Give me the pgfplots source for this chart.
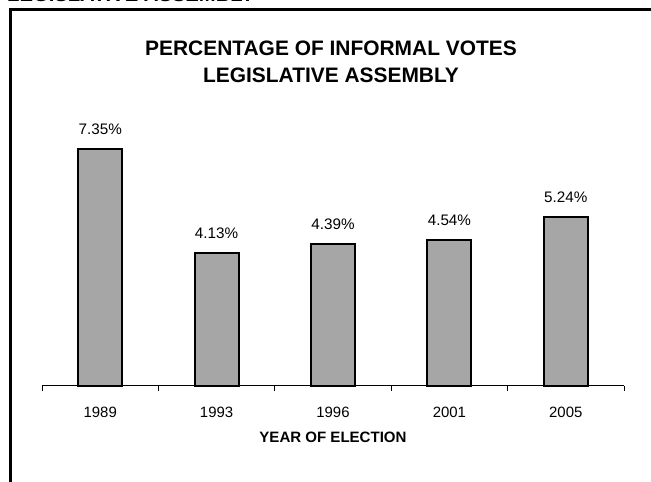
\documentclass[border=0pt]{standalone}
\usepackage{fontspec}
\setmainfont{Liberation Sans}
\usepackage{pgfplots}
\pgfplotsset{compat=1.18}
\definecolor{barfill}{RGB}{166,166,166}
\begin{document}
\begin{tikzpicture}
\useasboundingbox (0bp,0bp) rectangle (651bp,482bp);
% heading above the frame (runs off the top of the page)
\node[anchor=base west, inner sep=0pt, font=\fontsize{20.3}{24}\selectfont\bfseries]
  at (7bp,480.2bp) {LEGISLATIVE ASSEMBLY};
% chart frame
\draw[line width=2.5bp] (10.5bp,-10bp) -- (10.5bp,472.3bp) -- (680bp,472.3bp);
% chart title
\node[anchor=base, inner sep=0pt, font=\fontsize{21}{25}\selectfont\bfseries]
  at (331bp,426bp) {PERCENTAGE OF INFORMAL VOTES};
\node[anchor=base, inner sep=0pt, font=\fontsize{21}{25}\selectfont\bfseries]
  at (331bp,399bp) {LEGISLATIVE ASSEMBLY};
\begin{axis}[
  at={(42bp,96bp)}, anchor=south west,
  scale only axis, width=582bp, height=257.9bp,
  xmin=-0.5, xmax=4.5, ymin=0, ymax=8,
  clip=false,
  axis x line*=bottom, axis y line=none,
  axis line style={black, line width=1bp},
  /pgf/number format/assume math mode=true,
  xtick={0,1,2,3,4},
  xticklabels={1989,1993,1996,2001,2005},
  major x tick style={draw=none},
  minor xtick={-0.5,0.5,1.5,2.5,3.5,4.5},
  minor x tick style={black, line width=1bp},
  minor tick length=5bp,
  tick align=outside,
  ytick=\empty,
  xticklabel style={font=\fontsize{15}{18}\selectfont, anchor=base, yshift=-27bp, inner sep=0pt},
  xlabel={YEAR OF ELECTION},
  xlabel style={at={(axis description cs:0.5,0)}, anchor=base, yshift=-56.3bp,
    inner sep=0pt, font=\fontsize{15.1}{18}\selectfont\bfseries},
  ybar, bar width=0.378,
  nodes near coords={\pgfmathprintnumber[fixed,fixed zerofill,precision=2]{\pgfplotspointmeta}\%},
  every node near coord/.append style={font=\fontsize{15.3}{18}\selectfont,
    anchor=base, yshift=14.5bp, inner sep=0pt},
]
\addplot[fill=barfill, draw=black, line width=2bp]
  coordinates {(0,7.35) (1,4.13) (2,4.39) (3,4.54) (4,5.24)};
\end{axis}
\end{tikzpicture}
\end{document}
